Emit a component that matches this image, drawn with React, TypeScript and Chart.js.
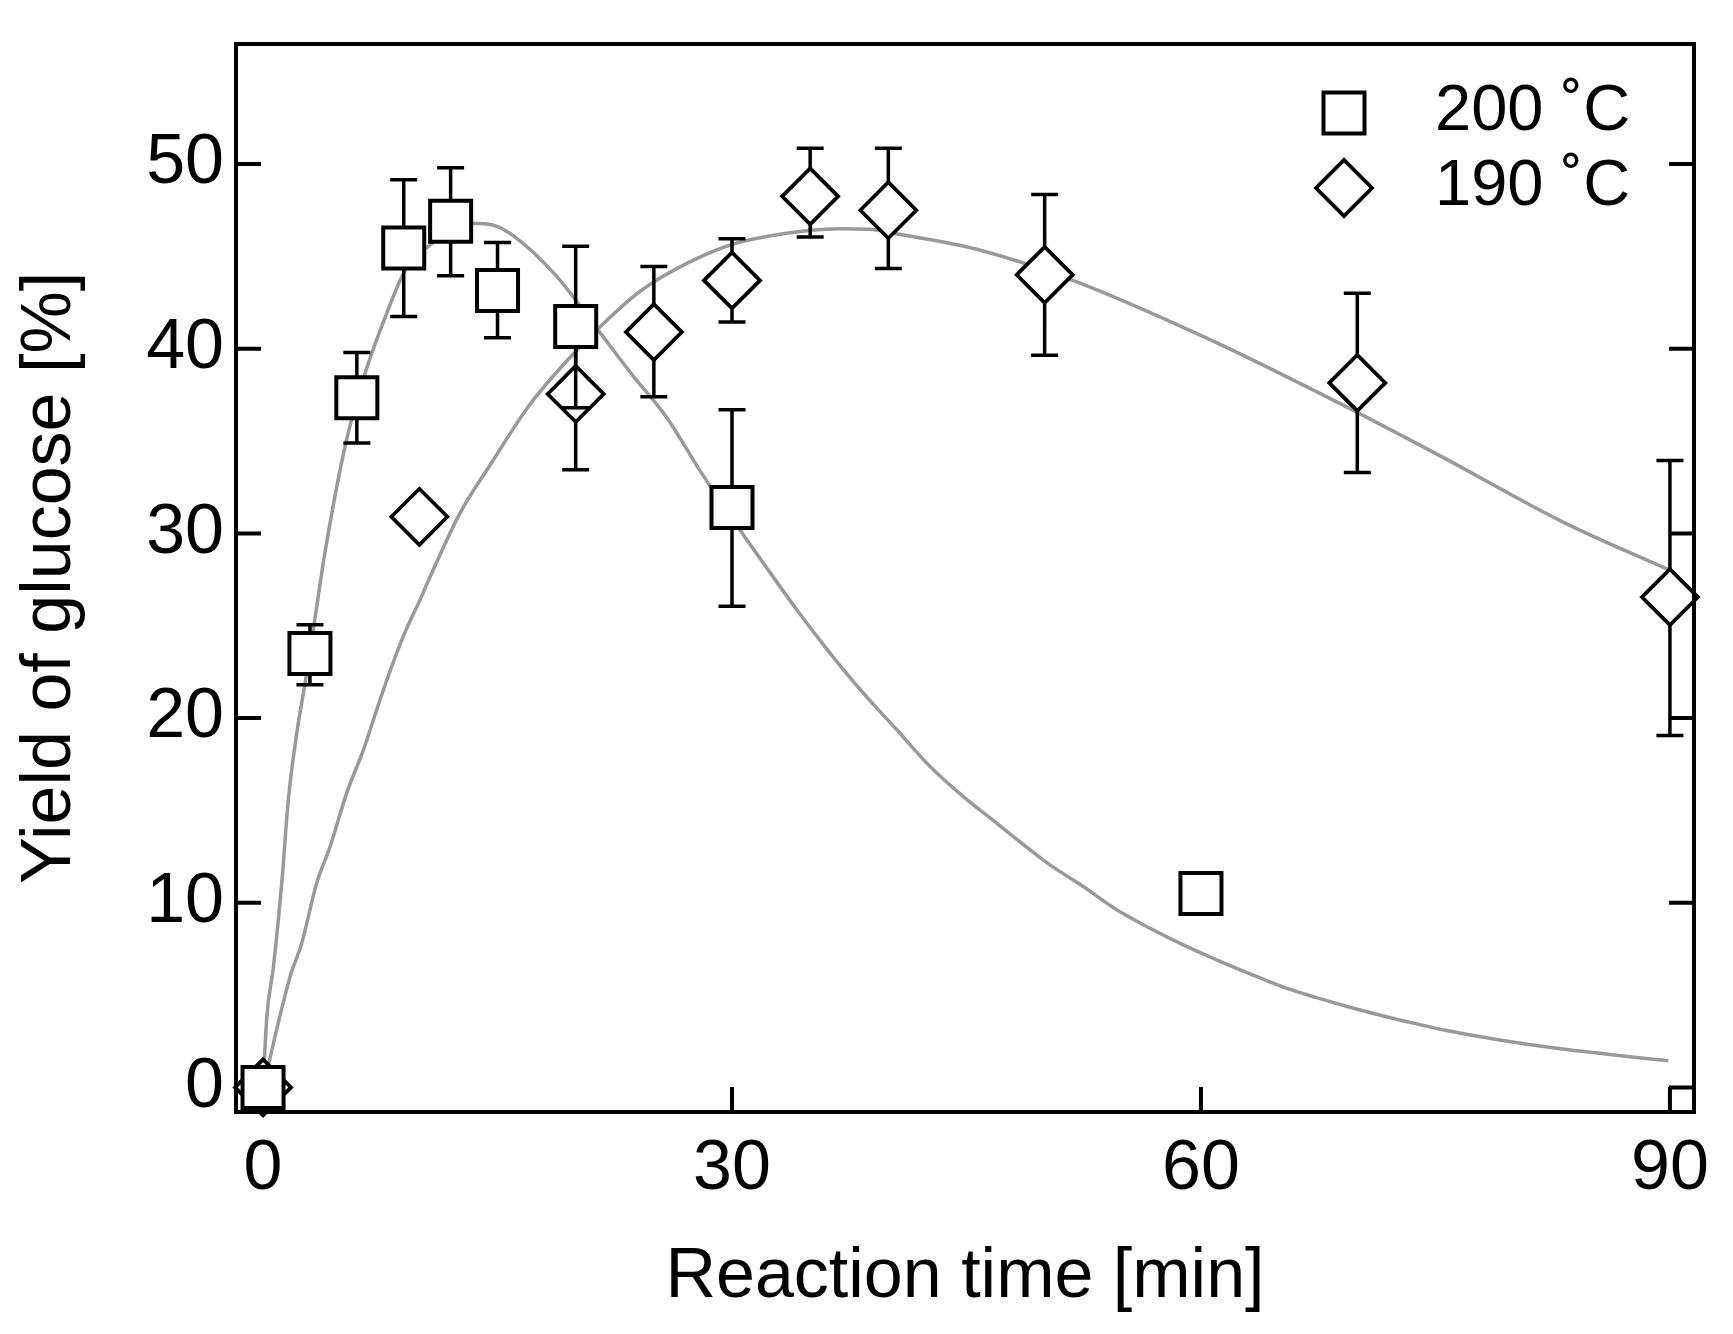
import { useEffect, useRef } from 'react';
import { Chart, registerables } from 'chart.js';
import { drawPoint } from 'chart.js/helpers';

Chart.register(...registerables);

const FONT = "'Liberation Sans', Arial, Helvetica, sans-serif";

// measured yields, 200 °C
const time200 = [0, 3, 6, 9, 12, 15, 20, 30, 60];
const yield200 = [0, 23.5, 37.35, 45.45, 46.9, 43.15, 41.2, 31.4, 10.5];
const low200 = [null, 21.8, 34.9, 41.75, 43.95, 40.6, 36.8, 26.05, null];
const high200 = [null, 25.05, 39.8, 49.15, 49.8, 45.75, 45.55, 36.7, null];

// measured yields, 190 °C
const time190 = [0, 10, 20, 25, 30, 35, 40, 50, 70, 90];
const yield190 = [0, 30.9, 37.55, 40.9, 43.7, 48.25, 47.5, 44.0, 38.15, 26.55];
const low190 = [null, null, 33.45, 37.4, 41.45, 46.05, 44.35, 39.65, 33.3, 19.05];
const high190 = [null, null, 41.65, 44.45, 45.95, 50.85, 50.85, 48.35, 43.0, 33.95];

// model curves
const curveTime200 = [0, 0.24, 0.66, 1.2, 1.62, 2.16, 2.69, 3.22, 3.93, 5.27, 6.5, 7.72, 9.19, 10.66, 12.0, 13.35, 14.7, 16.04, 18.7, 21.4, 23.6, 25.8, 27.95, 30.5, 32.0, 34.14, 36.27, 38.4, 40.54, 42.67, 44.8, 46.93, 49.06, 50.34, 52.47, 54.61, 56.74, 58.87, 61.0, 63.14, 65.27, 67.4, 69.53, 71.66, 73.8, 75.72, 79.1, 83.0, 89.9];
const curveYield200 = [0, 3.8, 6.5, 11.1, 15.6, 19.2, 21.9, 24.8, 28.8, 34.8, 38.6, 41.5, 44.4, 45.6, 46.4, 46.8, 46.7, 46.1, 44.0, 41.05, 38.6, 36.3, 33.4, 30.2, 28.4, 25.87, 23.52, 21.35, 19.37, 17.38, 15.75, 14.31, 12.87, 12.05, 10.88, 9.62, 8.62, 7.72, 6.91, 6.15, 5.43, 4.86, 4.34, 3.87, 3.44, 3.08, 2.57, 2.09, 1.44];
const curveTime190 = [0, 1.73, 2.47, 3.43, 4.29, 5.35, 6.42, 7.7, 8.97, 10.04, 10.66, 12.6, 14.6, 17.0, 19.5, 21.7, 24.1, 27.3, 30.2, 34.35, 37.0, 39.0, 40.7, 45.6, 51.8, 60.3, 67.8, 75.3, 83.2, 90.0];
const curveYield190 = [0, 6.0, 7.8, 11.06, 13.04, 15.94, 18.28, 21.53, 24.42, 26.4, 27.6, 31.1, 33.8, 36.9, 39.4, 41.3, 43.1, 44.7, 45.7, 46.35, 46.5, 46.45, 46.2, 45.4, 43.7, 40.6, 37.5, 34.2, 30.6, 28.0];

const xTicks = [0, 30, 60, 90];
const yTicks = [0, 10, 20, 30, 40, 50];

const TICK_LEN = 25;
const CAP = 13.5;

const toPoints = (xs: number[], ys: number[]) => xs.map((x, i) => ({ x, y: ys[i] }));

const figurePlugin = {
  id: 'figurePlugin',
  beforeDatasetsDraw(chart: any) {
    const { ctx, chartArea: a, scales } = chart;
    ctx.save();
    ctx.strokeStyle = '#000';
    ctx.lineWidth = 4;
    ctx.beginPath();
    yTicks.forEach((v) => {
      const y = scales.y.getPixelForValue(v);
      ctx.moveTo(a.left, y);
      ctx.lineTo(a.left + TICK_LEN, y);
      ctx.moveTo(a.right, y);
      ctx.lineTo(a.right - TICK_LEN, y);
    });
    xTicks.forEach((v) => {
      const x = scales.x.getPixelForValue(v);
      ctx.moveTo(x, a.bottom);
      ctx.lineTo(x, a.bottom - TICK_LEN);
    });
    ctx.stroke();
    ctx.restore();
  },
  beforeDatasetDraw(chart: any, args: any) {
    const ds = chart.data.datasets[args.index];
    if (!ds.errLow) return;
    const { ctx, scales } = chart;
    ctx.save();
    ctx.strokeStyle = '#000';
    ctx.lineWidth = 3.5;
    ctx.beginPath();
    ds.data.forEach((p: any, i: number) => {
      const lo = ds.errLow[i];
      const hi = ds.errHigh[i];
      if (lo == null || hi == null) return;
      const x = scales.x.getPixelForValue(p.x);
      const y1 = scales.y.getPixelForValue(lo);
      const y2 = scales.y.getPixelForValue(hi);
      ctx.moveTo(x, y1);
      ctx.lineTo(x, y2);
      ctx.moveTo(x - CAP, y1);
      ctx.lineTo(x + CAP, y1);
      ctx.moveTo(x - CAP, y2);
      ctx.lineTo(x + CAP, y2);
    });
    ctx.stroke();
    ctx.restore();
  },
  afterDatasetsDraw(chart: any) {
    const { ctx, chartArea: a } = chart;
    ctx.save();
    ctx.strokeStyle = '#000';
    ctx.lineWidth = 4;
    ctx.strokeRect(a.left, a.top, a.right - a.left, a.bottom - a.top);

    // legend, top right inside the frame
    ctx.font = `65px ${FONT}`;
    ctx.textBaseline = 'middle';
    ctx.textAlign = 'left';
    let row = 0;
    chart.data.datasets.forEach((ds: any) => {
      if (!ds.inLegend) return;
      const y = 112 + row * 75;
      ctx.fillStyle = '#fff';
      ctx.strokeStyle = '#000';
      ctx.lineWidth = ds.pointBorderWidth;
      drawPoint(ctx, { pointStyle: ds.pointStyle, radius: ds.pointRadius, borderWidth: ds.pointBorderWidth, rotation: 0 }, 1344, y + 1);
      ctx.fillStyle = '#000';
      ctx.fillText(ds.label, 1435, y);
      row += 1;
    });
    ctx.restore();
  },
};

export default function App() {
  const canvasRef = useRef<HTMLCanvasElement | null>(null);

  useEffect(() => {
    document.body.style.margin = '0';
    if (!canvasRef.current) return;

    const chart = new Chart(canvasRef.current, {
      type: 'scatter',
      data: {
        datasets: [
          {
            label: '200 \u02DAC',
            data: toPoints(time200, yield200),
            errLow: low200,
            errHigh: high200,
            inLegend: true,
            showLine: false,
            pointStyle: 'rect',
            pointRadius: 29,
            pointBorderWidth: 4,
            pointBackgroundColor: '#fff',
            pointBorderColor: '#000',
            clip: false,
            order: 0,
          },
          {
            label: '190 \u02DAC',
            data: toPoints(time190, yield190),
            errLow: low190,
            errHigh: high190,
            inLegend: true,
            showLine: false,
            pointStyle: 'rectRot',
            pointRadius: 28,
            pointBorderWidth: 3.75,
            pointBackgroundColor: '#fff',
            pointBorderColor: '#000',
            clip: false,
            order: 1,
          },
          {
            label: 'model 200',
            data: toPoints(curveTime200, curveYield200),
            showLine: true,
            pointRadius: 0,
            borderColor: '#999999',
            borderWidth: 3.5,
            cubicInterpolationMode: 'monotone',
            order: 2,
          },
          {
            label: 'model 190',
            data: toPoints(curveTime190, curveYield190),
            showLine: true,
            pointRadius: 0,
            borderColor: '#999999',
            borderWidth: 3.5,
            cubicInterpolationMode: 'monotone',
            order: 3,
          },
        ] as any,
      },
      options: {
        animation: false,
        responsive: true,
        maintainAspectRatio: false,
        devicePixelRatio: 1,
        events: [],
        layout: { padding: { left: 0, top: 44, right: 39, bottom: 0 } },
        plugins: {
          legend: { display: false },
          tooltip: { enabled: false },
        },
        scales: {
          x: {
            type: 'linear',
            min: -1.73,
            max: 91.54,
            afterBuildTicks: (s: any) => {
              s.ticks = xTicks.map((value) => ({ value }));
            },
            afterFit: (s: any) => {
              s.height = 222;
              s.paddingLeft = 0;
              s.paddingRight = 0;
            },
            grid: { display: false, drawTicks: false },
            border: { display: false },
            ticks: {
              color: '#000',
              font: { family: FONT, size: 70 },
              padding: 16,
              maxRotation: 0,
              autoSkip: false,
            },
            title: {
              display: true,
              text: 'Reaction time [min]',
              color: '#000',
              font: { family: FONT, size: 70 },
              padding: { top: 0, bottom: 14 },
            },
          },
          y: {
            type: 'linear',
            min: -1.33,
            max: 56.5,
            afterBuildTicks: (s: any) => {
              s.ticks = yTicks.map((value) => ({ value }));
            },
            afterFit: (s: any) => {
              s.width = 236;
              s.paddingTop = 0;
              s.paddingBottom = 0;
            },
            grid: { display: false, drawTicks: false },
            border: { display: false },
            ticks: {
              color: '#000',
              font: { family: FONT, size: 70 },
              padding: 12,
              autoSkip: false,
            },
            title: {
              display: true,
              text: 'Yield of glucose [%]',
              color: '#000',
              font: { family: FONT, size: 70 },
              padding: { top: 9, bottom: 0 },
            },
          },
        },
      } as any,
      plugins: [figurePlugin],
    });

    return () => {
      chart.destroy();
    };
  }, []);

  return (
    <div style={{ position: 'relative', width: '1733px', height: '1334px', background: '#fff' }}>
      <canvas ref={canvasRef}></canvas>
    </div>
  );
}
